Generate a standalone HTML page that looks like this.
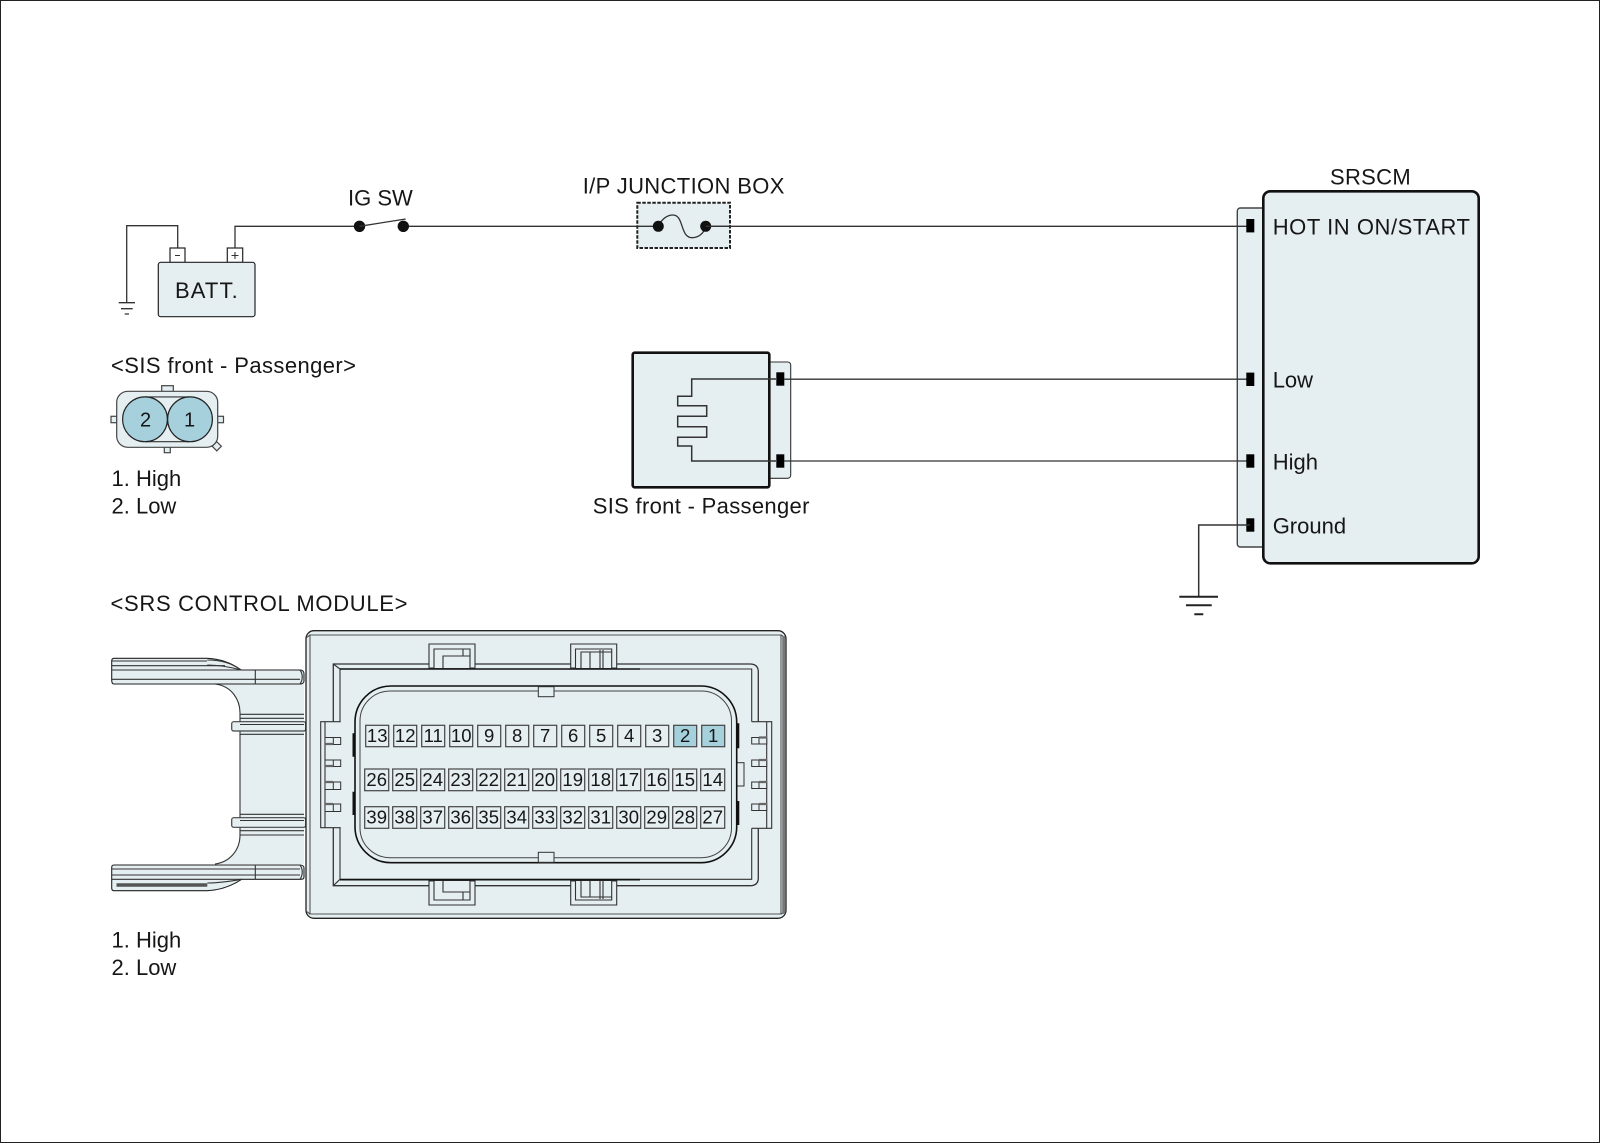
<!DOCTYPE html>
<html>
<head>
<meta charset="utf-8">
<style>
html,body{margin:0;padding:0;background:#fff;}
svg{display:block;}
text{font-family:"Liberation Sans",sans-serif;fill:#161616;}
.t{font-size:22px;}
.n{font-size:18.5px;text-anchor:middle;}
.w{fill:none;stroke:#333;stroke-width:1.3;}
.b{fill:#e5eef0;stroke:#222;stroke-width:1.2;}
.l{fill:none;stroke:#333;stroke-width:1.1;}
.c{fill:#e5eef0;stroke:#444;stroke-width:1.2;}
.h{fill:#a5d0dc;stroke:#444;stroke-width:1.2;}
</style>
</head>
<body>
<svg width="1600" height="1143" viewBox="0 0 1600 1143" xmlns="http://www.w3.org/2000/svg">
<rect x="0.5" y="0.5" width="1599" height="1142" fill="#fff" stroke="#222" stroke-width="1"/>

<!-- battery -->
<path class="w" d="M118.7 302.7H135M121 308.7H132.7M124.7 314H129"/>
<path class="w" d="M126.7 302.7V225.7H177.7V248"/>
<rect class="b" x="170" y="248" width="15" height="14.5" style="fill:#fff"/>
<rect class="b" x="227.3" y="248" width="15.4" height="14.5" style="fill:#fff"/>
<path class="l" d="M175 255.5h5M231.5 255.5h7M235 252v7"/>
<rect class="b" x="158.3" y="262.3" width="96.7" height="54.4" rx="2.5"/>
<text class="t" x="175" y="298" textLength="62.7" lengthAdjust="spacing">BATT.</text>

<path class="w" d="M235 248V226.3H359.5M403.3 226.3H658"/>
<text class="t" x="348" y="205.7">IG SW</text>
<circle cx="359.5" cy="226.3" r="5.7" fill="#111"/>
<circle cx="403.3" cy="226.3" r="5.7" fill="#111"/>
<path class="w" d="M359.5 226.3L405.7 219"/>

<!-- junction box -->
<text class="t" x="582.7" y="193.3" textLength="201.7" lengthAdjust="spacing">I/P JUNCTION BOX</text>
<rect x="637.3" y="202.7" width="92.7" height="45.3" fill="#e5eef0" stroke="#222" stroke-width="2" stroke-dasharray="3.5 1.5"/>
<path class="w" d="M637.3 226.3H658M705.7 226.3H730"/>
<path class="w" d="M658.3 226.3C662 218 668 215 673 215C684 215 680 237.7 692 237.7C699 237.7 704 233 705.7 226.3"/>
<circle cx="658.3" cy="226.3" r="5.5" fill="#111"/>
<circle cx="705.7" cy="226.3" r="5.5" fill="#111"/>

<!-- SIS connector small -->
<text class="t" x="111" y="373" textLength="245" lengthAdjust="spacing">&lt;SIS front - Passenger&gt;</text>
<rect class="c" x="161.7" y="385.7" width="11.6" height="6"/>
<rect class="c" x="111" y="416.3" width="6" height="6.4"/>
<rect class="c" x="217.5" y="416.3" width="6" height="6.4"/>
<rect class="c" x="164.3" y="447" width="6" height="5.7"/>
<rect class="c" x="213.5" y="443" width="6.5" height="6.5" transform="rotate(45 216.7 446.3)"/>
<rect class="c" x="116.7" y="391.3" width="101" height="56" rx="11"/>
<path class="l" d="M145 396.9H190M145 441.7H190"/>
<circle cx="145" cy="419.3" r="22.4" fill="#a5d0dc" stroke="#222" stroke-width="1.2"/>
<circle cx="190" cy="419.3" r="22.4" fill="#a5d0dc" stroke="#222" stroke-width="1.2"/>
<text class="n" style="font-size:20px" x="145.5" y="426.3">2</text>
<text class="n" style="font-size:20px" x="189.5" y="426.3">1</text>
<text class="t" x="111.5" y="486">1. High</text>
<text class="t" x="111.5" y="513.3">2. Low</text>

<!-- SIS front passenger -->
<rect x="740" y="362" width="50.7" height="116.3" rx="3" fill="#e5eef0" stroke="#333" stroke-width="1.1"/>
<rect x="632.7" y="352.7" width="136.6" height="134.6" rx="2" fill="#e5eef0" stroke="#111" stroke-width="2.6"/>
<path class="w" d="M776 379H691.7V396.3H677.7V405.7H706.7V416.3H677.7V426.7H706.7V437.3H677.7V446H691.7V461H776" style="stroke-width:1.5"/>
<rect x="776.3" y="372.3" width="8" height="13.4" fill="#000"/>
<rect x="776.3" y="454.3" width="8" height="13.4" fill="#000"/>
<text class="t" x="592.7" y="513.3" textLength="216.7" lengthAdjust="spacing">SIS front - Passenger</text>

<!-- SRSCM -->
<text class="t" x="1330" y="184.3" textLength="80.7" lengthAdjust="spacing">SRSCM</text>
<rect x="1237.3" y="208" width="40" height="339" rx="3" fill="#e5eef0" stroke="#444" stroke-width="1.4"/>
<rect x="1263.3" y="191.3" width="215.4" height="372" rx="7" fill="#e5eef0" stroke="#111" stroke-width="2.6"/>
<path class="w" d="M705.7 226.3H1250M784 379.2H1250M784 461H1250"/>
<rect x="1246.3" y="219" width="8" height="13.4" fill="#000"/>
<rect x="1246.3" y="372.6" width="8" height="13.4" fill="#000"/>
<rect x="1246.3" y="454.3" width="8" height="13.4" fill="#000"/>
<rect x="1246.3" y="518.3" width="8" height="13.4" fill="#000"/>
<text class="t" x="1272.7" y="234.7" textLength="197.3" lengthAdjust="spacing">HOT IN ON/START</text>
<text class="t" x="1272.7" y="387.3">Low</text>
<text class="t" x="1272.7" y="469.3">High</text>
<text class="t" x="1272.7" y="533.3">Ground</text>
<path class="w" d="M1250 525H1198.7V596.7" style="stroke-width:1.5"/>
<path d="M1179.3 596.7H1218M1186 605.3H1211.7M1194.3 614.3H1203.3" fill="none" stroke="#222" stroke-width="2"/>

<!-- SRS control module -->
<text class="t" x="110.5" y="611" textLength="297" lengthAdjust="spacing">&lt;SRS CONTROL MODULE&gt;</text>

<!-- bracket -->
<path d="M240 684V864H304V684Z" fill="#e5eef0"/>
<path d="M215 684C232 686 240 700 240 713V835C240 850 230 862 215 864H240V684Z" fill="#e5eef0" stroke="none"/>
<path class="l" d="M215 684C232 686 240 700 240 713V835C240 850 230 862 215 864"/>
<path class="b" style="stroke-width:1.1" d="M114 658.3H207.3C222 659 233 664 241 670H300C303 670 304 672 304 674V681C304 683 302 684 300 684H114C112 684 111.7 682 111.7 680V661C111.7 659 112.5 658.3 114 658.3Z"/>
<path class="b" style="stroke-width:1.1" d="M114 865H300C302 865 304 866 304 868V877C304 879 303 879.3 300 879.3H241.7C233 885 222 890 207.3 890.7H114C112.5 890.7 111.7 890 111.7 888V868C111.7 866 112 865 114 865Z"/>
<path class="l" d="M111.7 661H207M111.7 665.7H212L225 665.7M111.7 670H241M111.7 679.3H300M255.3 670V684M300 670C303 674 303 680 300 684"/>
<path class="l" d="M207.3 665C218 665 230 667 241 670M207.3 660C222 660 233 664 241 670"/>
<path class="l" d="M111.7 869H300M111.7 875H300M111.7 879.3H241.7M255.3 865V879.3M300 865C303 869 303 875 300 879.3"/>
<path d="M116.5 885H207.3" stroke="#555" stroke-width="3.5" fill="none"/>
<path class="l" d="M207.3 883C220 883 232 881 241.7 879.3"/>
<path class="l" d="M240 714.3H304M240 718.3H304M240 734.3H304M240 814.3H304M240 830.7H304M240 835H304"/>
<rect class="c" x="231.7" y="721.7" width="74" height="9.3" rx="2"/>
<rect class="c" x="231.7" y="817.7" width="74" height="9.6" rx="2"/>
<path class="l" d="M240 724.5H304M240 820.5H304"/>

<!-- main body -->
<rect x="306" y="630.7" width="480" height="287.6" rx="8" fill="#e5eef0" stroke="#222" stroke-width="1.3"/>
<path d="M310 635H781V914H310Z" fill="none" stroke="#555" stroke-width="1.1"/>
<path d="M306 638L310 635M786 638L781 635M306 911L310 914M786 911L781 914" stroke="#444" stroke-width="1"/>
<path d="M783.7 636V914" stroke="#777" stroke-width="3"/>

<!-- frame -->
<path class="l" style="stroke-width:1.3" d="M333.3 721.7V664H750Q758.3 664 758.3 672V721.7M758.3 828.3V878Q758.3 885.7 750 885.7H333.3V827.7"/>
<path class="l" d="M340 721.7V669H751.7V721.7M751.7 828.3V879.3H340V827.7M333.3 664L340 669M333.3 885.7L340 879.3"/>
<path d="M340 669H640M340 879.7H640" stroke="#111" stroke-width="1.6" fill="none"/>

<!-- clips -->
<g fill="#e5eef0" stroke="#333" stroke-width="1.1">
<path d="M429 668V644H475V668Z"/><path d="M434 668V649H470V668"/><path d="M443 668V656H470M463 649V656"/>
<path d="M570.7 668V644H616.7V668Z"/><path d="M575.5 668V649H611.7V668"/><path d="M581 668V652H611.7M590 652V668M600 650V668M603 650V668"/>
<path d="M429 881V905H475V881Z"/><path d="M434 881V900H470V881"/><path d="M443 881V892H470M463 900V892"/>
<path d="M570.7 881V905H616.7V881Z"/><path d="M575.5 881V900H611.7V881"/><path d="M581 881V897H611.7M590 897V881M600 899V881M603 899V881"/>
</g>

<!-- combs -->
<g fill="#e5eef0" stroke="#333" stroke-width="1.1">
<path d="M340.7 721.7H320.7V827.7H340.7M325 721.7V827.7"/>
<path d="M751.7 721.7H771.7V828.3H751.7M766.7 721.7V828.3"/>
</g>
<g stroke="#333" stroke-width="1" fill="#e5eef0">
<rect x="325" y="737.5" width="15.7" height="7"/><rect x="325" y="760" width="15.7" height="6.5"/><rect x="325" y="782" width="15.7" height="7.5"/><rect x="325" y="804" width="15.7" height="7.5"/>
<rect x="751.7" y="737.5" width="15" height="6.5"/><rect x="751.7" y="760" width="15" height="6.5"/><rect x="751.7" y="782" width="15" height="6.5"/><rect x="751.7" y="804" width="15" height="6.5"/>
<rect x="736.7" y="762.7" width="7.3" height="23.3"/>
<path d="M333.3 737.5v7M333.3 760v6.5M333.3 782v7.5M333.3 804v7.5M759 737.5v6.5M759 760v6.5M759 782v6.5M759 804v6.5"/>
</g>
<path d="M325 744H333M325 766H333M325 782H333M325 804H333M759 737.5H767M759 760H767M759 782H767M759 804H767" stroke="#666" stroke-width="2.2"/>
<path d="M353.8 733.3V756.7M353.8 791.7V815M738 723.3V748.3M738 801V825" stroke="#111" stroke-width="2.6"/>

<!-- cavity -->
<rect x="355" y="686" width="381.7" height="176.7" rx="36" fill="#e5eef0" stroke="#111" stroke-width="1.6"/>
<rect x="360" y="691" width="371.5" height="166.7" rx="30" fill="none" stroke="#444" stroke-width="1"/>
<rect x="538.3" y="686.7" width="15.7" height="10" fill="#e5eef0" stroke="#333"/>
<rect x="538.3" y="852.3" width="15.7" height="10" fill="#e5eef0" stroke="#333"/>

<!-- row 1 -->
<g>
<rect class="c" x="365.7" y="725.3" width="23" height="21.4"/><rect class="c" x="393.7" y="725.3" width="23" height="21.4"/><rect class="c" x="421.7" y="725.3" width="23" height="21.4"/><rect class="c" x="449.7" y="725.3" width="23" height="21.4"/><rect class="c" x="477.7" y="725.3" width="23" height="21.4"/><rect class="c" x="505.7" y="725.3" width="23" height="21.4"/><rect class="c" x="533.7" y="725.3" width="23" height="21.4"/><rect class="c" x="561.7" y="725.3" width="23" height="21.4"/><rect class="c" x="589.7" y="725.3" width="23" height="21.4"/><rect class="c" x="617.7" y="725.3" width="23" height="21.4"/><rect class="c" x="645.7" y="725.3" width="23" height="21.4"/><rect class="h" x="673.7" y="725.3" width="23" height="21.4"/><rect class="h" x="701.7" y="725.3" width="23" height="21.4"/>
</g>
<text class="n" x="377.2" y="742">13</text><text class="n" x="405.2" y="742">12</text><text class="n" x="433.2" y="742">11</text><text class="n" x="461.2" y="742">10</text><text class="n" x="489.2" y="742">9</text><text class="n" x="517.2" y="742">8</text><text class="n" x="545.2" y="742">7</text><text class="n" x="573.2" y="742">6</text><text class="n" x="601.2" y="742">5</text><text class="n" x="629.2" y="742">4</text><text class="n" x="657.2" y="742">3</text><text class="n" x="685.2" y="742">2</text><text class="n" x="713.2" y="742">1</text>

<!-- row 2 -->
<g>
<rect class="c" x="364.7" y="769" width="24" height="21.7"/><rect class="c" x="392.7" y="769" width="24" height="21.7"/><rect class="c" x="420.7" y="769" width="24" height="21.7"/><rect class="c" x="448.7" y="769" width="24" height="21.7"/><rect class="c" x="476.7" y="769" width="24" height="21.7"/><rect class="c" x="504.7" y="769" width="24" height="21.7"/><rect class="c" x="532.7" y="769" width="24" height="21.7"/><rect class="c" x="560.7" y="769" width="24" height="21.7"/><rect class="c" x="588.7" y="769" width="24" height="21.7"/><rect class="c" x="616.7" y="769" width="24" height="21.7"/><rect class="c" x="644.7" y="769" width="24" height="21.7"/><rect class="c" x="672.7" y="769" width="24" height="21.7"/><rect class="c" x="700.7" y="769" width="24" height="21.7"/>
</g>
<text class="n" x="376.7" y="786">26</text><text class="n" x="404.7" y="786">25</text><text class="n" x="432.7" y="786">24</text><text class="n" x="460.7" y="786">23</text><text class="n" x="488.7" y="786">22</text><text class="n" x="516.7" y="786">21</text><text class="n" x="544.7" y="786">20</text><text class="n" x="572.7" y="786">19</text><text class="n" x="600.7" y="786">18</text><text class="n" x="628.7" y="786">17</text><text class="n" x="656.7" y="786">16</text><text class="n" x="684.7" y="786">15</text><text class="n" x="712.7" y="786">14</text>

<!-- row 3 -->
<g>
<rect class="c" x="364.7" y="806.7" width="24" height="21.6"/><rect class="c" x="392.7" y="806.7" width="24" height="21.6"/><rect class="c" x="420.7" y="806.7" width="24" height="21.6"/><rect class="c" x="448.7" y="806.7" width="24" height="21.6"/><rect class="c" x="476.7" y="806.7" width="24" height="21.6"/><rect class="c" x="504.7" y="806.7" width="24" height="21.6"/><rect class="c" x="532.7" y="806.7" width="24" height="21.6"/><rect class="c" x="560.7" y="806.7" width="24" height="21.6"/><rect class="c" x="588.7" y="806.7" width="24" height="21.6"/><rect class="c" x="616.7" y="806.7" width="24" height="21.6"/><rect class="c" x="644.7" y="806.7" width="24" height="21.6"/><rect class="c" x="672.7" y="806.7" width="24" height="21.6"/><rect class="c" x="700.7" y="806.7" width="24" height="21.6"/>
</g>
<text class="n" x="376.7" y="823.5">39</text><text class="n" x="404.7" y="823.5">38</text><text class="n" x="432.7" y="823.5">37</text><text class="n" x="460.7" y="823.5">36</text><text class="n" x="488.7" y="823.5">35</text><text class="n" x="516.7" y="823.5">34</text><text class="n" x="544.7" y="823.5">33</text><text class="n" x="572.7" y="823.5">32</text><text class="n" x="600.7" y="823.5">31</text><text class="n" x="628.7" y="823.5">30</text><text class="n" x="656.7" y="823.5">29</text><text class="n" x="684.7" y="823.5">28</text><text class="n" x="712.7" y="823.5">27</text>

<text class="t" x="111.5" y="947.5">1. High</text>
<text class="t" x="111.5" y="974.8">2. Low</text>
</svg>
</body>
</html>
